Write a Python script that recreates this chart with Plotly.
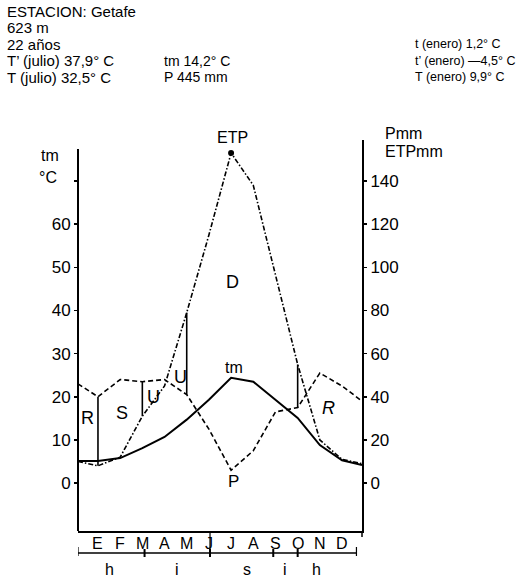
import plotly.graph_objects as go

# ---------------- data ----------------
months = ["E", "F", "M", "A", "M", "J", "J", "A", "S", "O", "N", "D"]
month_x = list(range(12))
tm_c = [5.1, 5.8, 8.1, 10.7, 14.7, 19.3, 24.4, 23.5, 19.3, 15.1, 8.8, 5.3]
p_mm = [40, 48, 47, 48, 41, 25, 6, 15, 33, 35, 51, 45]
etp_mm = [8, 12, 31, 45, 79, 115, 153, 138, 97, 55, 20, 11]
# values where the curves meet the left / right vertical axes
x_edges = [-0.9, 11.9]
tm_edges = [5.1, 4.2]
p_edges = [46, 38]
etp_edges = [10, 9]
# months where the water-balance periods change (vertical P-ETP lines)
balance_months = [0, 2, 4, 9]
regions = ["R", "S", "U", "U", "D", "R"]
seasons = ["h", "i", "s", "i", "h"]
season_x = [0.54, 3.56, 6.71, 8.43, 9.87]
season_bounds = [2.1, 5.05, 7.9, 9.0]
t_ticks = [0, 10, 20, 30, 40, 50, 60, 70]
t_ticktext = ["0", "10", "20", "30", "40", "50", "60", ""]
mm_ticks = [0, 20, 40, 60, 80, 100, 120, 140]

header_left = ["ESTACION: Getafe", "623 m", "22 años", "T\u2019 (julio) 37,9° C", "T (julio) 32,5° C"]
header_mid = ["tm 14,2° C", "P 445 mm"]
header_right = ["t (enero) 1,2° C", "t\u2019 (enero) \u20144,5° C", "T (enero) 9,9° C"]

# ---------------- layout geometry ----------------
W, H = 518, 577
L, R, T, B = 78, 362, 140, 531
PW, PH = R - L, B - T
FONT = "Liberation Sans, Arial, sans-serif"


def px(x, y):
    return (x - L) / PW, (B - y) / PH


def xs(vals):
    return [x_edges[0]] + month_x + [x_edges[1]]


fig = go.Figure()

# tm curve
fig.add_trace(go.Scatter(x=xs(tm_c), y=[tm_edges[0]] + tm_c + [tm_edges[1]],
                         mode="lines", line=dict(color="black", width=2),
                         yaxis="y", showlegend=False, hoverinfo="skip"))
# P curve
fig.add_trace(go.Scatter(x=xs(p_mm), y=[p_edges[0]] + p_mm + [p_edges[1]],
                         mode="lines", line=dict(color="black", width=1.6, dash="5px,3px"),
                         yaxis="y2", showlegend=False, hoverinfo="skip"))
# ETP curve
fig.add_trace(go.Scatter(x=xs(etp_mm), y=[etp_edges[0]] + etp_mm + [etp_edges[1]],
                         mode="lines", line=dict(color="black", width=1.6, dash="5px,2px,1.5px,2px"),
                         yaxis="y2", showlegend=False, hoverinfo="skip"))
# ETP maximum dot
imax = etp_mm.index(max(etp_mm))
fig.add_trace(go.Scatter(x=[month_x[imax]], y=[etp_mm[imax]], mode="markers",
                         marker=dict(color="black", size=6), yaxis="y2",
                         showlegend=False, hoverinfo="skip"))
# vertical balance lines between P and ETP
for m in balance_months:
    fig.add_trace(go.Scatter(x=[m, m], y=[etp_mm[m], p_mm[m]], mode="lines",
                             line=dict(color="black", width=1.6), yaxis="y2",
                             showlegend=False, hoverinfo="skip"))

ann = []


def text(t, x, y, size=14, xanchor="center", italic=False):
    X, Y = px(x, y)
    ann.append(dict(text=("<i>%s</i>" % t) if italic else t, x=X, y=Y, xref="paper", yref="paper",
                    xanchor=xanchor, yanchor="middle", showarrow=False,
                    font=dict(family=FONT, size=size, color="black")))


# header
for i, t in enumerate(header_left):
    text(t, 5, 11 + i * 16.5, 15, "left")
for i, t in enumerate(header_mid):
    text(t, 162, 60.5 + i * 16.5, 14, "left")
for i, t in enumerate(header_right):
    text(t, 413, 44 + i * 16.5, 12.5, "left")

# axis titles
text("tm", 50, 155, 16)
text("°C", 48, 177, 16)
text("Pmm", 383, 133, 16, "left")
text("ETPmm", 383, 151, 16, "left")

# curve labels
text("ETP", 232, 138, 16)
text("tm", 234, 367, 16)
text("P", 233, 481, 17)

# region labels
region_pos = [(87, 418), (122, 413), (153, 397), (180, 377), (232, 282), (328, 408)]
for t, (x, y) in zip(regions, region_pos):
    text(t, x, y, 18, italic=(t == "R" and x > 300))

# month letters and seasons
for m, t in zip(month_x, months):
    ann.append(dict(text=t, x=m, y=(B - 543) / PH, xref="x", yref="paper", showarrow=False,
                    xanchor="center", yanchor="middle",
                    font=dict(family=FONT, size=16, color="black")))
for sx, t in zip(season_x, seasons):
    ann.append(dict(text=t, x=sx, y=(B - 569) / PH, xref="x", yref="paper", showarrow=False,
                    xanchor="center", yanchor="middle",
                    font=dict(family=FONT, size=16, color="black")))

shapes = []
# left axis line (slightly shorter than the right one)
shapes.append(dict(type="line", xref="paper", yref="paper", x0=0, x1=0, y0=0, y1=(B - 149) / PH,
                   line=dict(color="black", width=2)))
# lower line of the month box
y_low = (B - 553) / PH
shapes.append(dict(type="line", xref="x", yref="paper", x0=x_edges[0], x1=11.65, y0=y_low, y1=y_low,
                   line=dict(color="black", width=1.5)))
shapes.append(dict(type="line", xref="x", yref="paper", x0=x_edges[0], x1=x_edges[0],
                   y0=(B - 547) / PH, y1=(B - 556) / PH, line=dict(color="black", width=1.2)))
shapes.append(dict(type="line", xref="x", yref="paper", x0=11.65, x1=11.65,
                   y0=(B - 547) / PH, y1=(B - 556) / PH, line=dict(color="black", width=1.2)))
shapes.append(dict(type="line", xref="paper", yref="paper", x0=1, x1=1,
                   y0=0, y1=(B - 537) / PH, line=dict(color="black", width=1.5)))
# season boundary marks
for sb in season_bounds:
    shapes.append(dict(type="line", xref="x", yref="paper", x0=sb, x1=sb,
                       y0=(B - 549) / PH, y1=(B - 557) / PH, line=dict(color="black", width=2)))
# J separator in the month box
shapes.append(dict(type="line", xref="x", yref="paper", x0=season_bounds[1], x1=season_bounds[1],
                   y0=0, y1=y_low, line=dict(color="black", width=1.2)))

fig.update_layout(
    width=W, height=H,
    margin=dict(l=L, r=W - R, t=T, b=H - B, pad=0),
    paper_bgcolor="white", plot_bgcolor="white",
    showlegend=False,
    xaxis=dict(range=x_edges, showgrid=False, zeroline=False, showticklabels=False, ticks="",
               showline=True, linecolor="black", linewidth=2),
    yaxis=dict(range=[-11.1, 79.5], showgrid=False, zeroline=False, showline=False,
               tickvals=t_ticks, ticktext=t_ticktext, ticks="outside", ticklen=3,
               tickcolor="black", tickwidth=1.5,
               tickfont=dict(family=FONT, size=17, color="black")),
    yaxis2=dict(range=[-22.2, 159.0], overlaying="y", side="right", showgrid=False,
                zeroline=False, showline=True, linecolor="black", linewidth=2,
                tickvals=mm_ticks, ticks="outside", ticklen=3, tickcolor="black", tickwidth=1.5,
                tickfont=dict(family=FONT, size=17, color="black")),
    annotations=ann, shapes=shapes,
)

fig.write_html("out.html", config={"displayModeBar": False, "staticPlot": True},
               post_script="document.body.style.margin='0px';")
